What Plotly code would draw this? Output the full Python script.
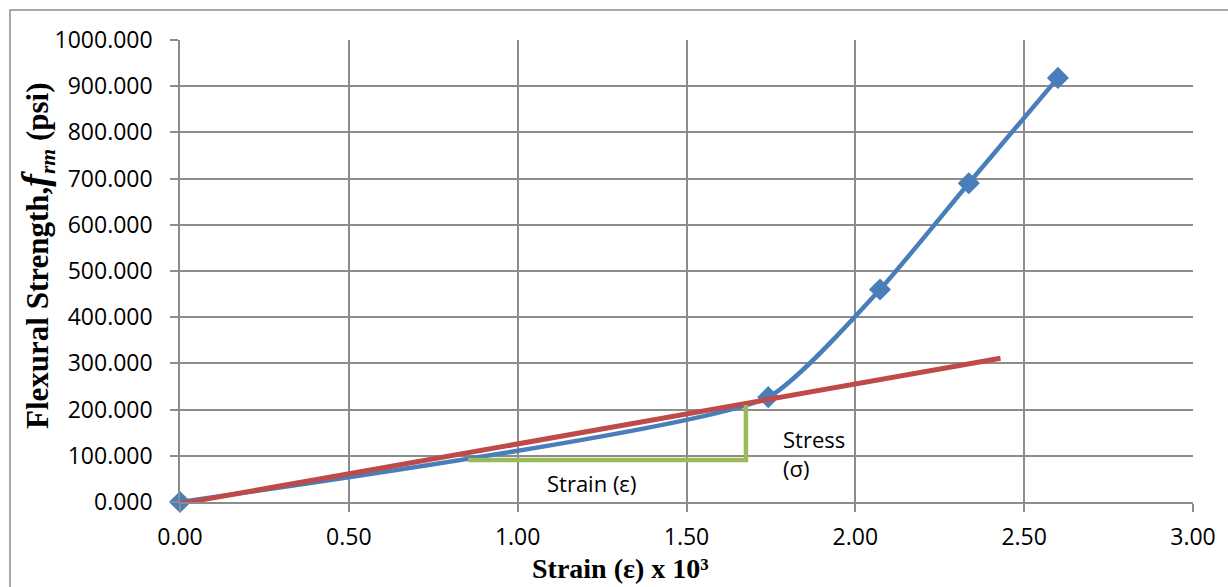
import plotly.graph_objects as go

# Data
strain = [0.0, 1.742, 2.073, 2.336, 2.600]
stress = [0.0, 227.0, 460.0, 690.0, 918.0]

trend_x = [-0.01, 2.43]
trend_y = [-5.0, 311.0]

green_x = [0.853, 1.676, 1.676]
green_y = [91.0, 91.0, 210.0]

x_ticks = [0, 0.5, 1.0, 1.5, 2.0, 2.5, 3.0]
y_ticks = [0, 100, 200, 300, 400, 500, 600, 700, 800, 900, 1000]

W, H = 1228, 587
ML, MR, MT, MB = 180, 35, 40, 85

fig = go.Figure()

fig.add_trace(go.Scatter(
    x=strain, y=stress, mode="lines+markers",
    line=dict(color="#4A7EBB", width=4.5, shape="spline", smoothing=0.5),
    marker=dict(symbol="diamond", size=17, color="#4A7EBB"),
    cliponaxis=False, showlegend=False))

fig.add_trace(go.Scatter(
    x=trend_x, y=trend_y, mode="lines",
    line=dict(color="#BE4B48", width=5),
    cliponaxis=False, showlegend=False))

fig.add_trace(go.Scatter(
    x=green_x, y=green_y, mode="lines",
    line=dict(color="#9BBB59", width=4.5),
    cliponaxis=False, showlegend=False))

tick_font = dict(family="Open Sans", size=23, color="black")

fig.update_xaxes(
    range=[0, 3], tickvals=x_ticks, ticktext=[f"{v:.2f}" for v in x_ticks],
    showgrid=True, gridcolor="#8C8C8C", gridwidth=1.5,
    showline=True, linecolor="#8C8C8C", linewidth=1.5,
    ticks="outside", ticklen=8, tickcolor="#8C8C8C", tickwidth=1.5,
    tickfont=tick_font, ticklabelstandoff=6, zeroline=False)

fig.update_yaxes(
    range=[0, 1000], tickvals=y_ticks, ticktext=[f"{v:.3f}" for v in y_ticks],
    showgrid=True, gridcolor="#8C8C8C", gridwidth=1.5,
    showline=True, linecolor="#8C8C8C", linewidth=1.5,
    ticks="outside", ticklen=8, tickcolor="#8C8C8C", tickwidth=1.5,
    tickfont=tick_font, ticklabelstandoff=13, zeroline=False)

pw = W - ML - MR
ph = H - MT - MB
def px_to_paper_x(p):
    return (p - ML) / pw
def px_to_paper_y(p):
    return (H - MB - p) / ph

# Axis titles
fig.add_annotation(xref="paper", yref="paper",
                   x=px_to_paper_x(620), y=px_to_paper_y(568),
                   text="<b>Strain (ε) x 10³</b>", showarrow=False, borderpad=0,
                   font=dict(family="Liberation Serif", size=28, color="black"),
                   xanchor="center", yanchor="middle")
fig.add_annotation(xref="paper", yref="paper",
                   x=px_to_paper_x(37), y=px_to_paper_y(256),
                   text="<b>Flexural Strength,<i><span style='font-size:38px'>f</span><sub>rm</sub></i> (psi)</b>",
                   showarrow=False, textangle=-90, borderpad=0,
                   font=dict(family="Liberation Serif", size=31, color="black"),
                   xanchor="center", yanchor="middle")

fig.add_annotation(x=1.22, y=41, text="Strain (ε)", showarrow=False,
                   font=dict(family="Open Sans", size=22, color="black"),
                   xanchor="center", yanchor="middle")
fig.add_annotation(x=1.78, y=106, text="Stress<br>(σ)", showarrow=False, align="left",
                   font=dict(family="Open Sans", size=22, color="black"),
                   xanchor="left", yanchor="middle")

fig.add_shape(type="rect", xref="paper", yref="paper",
              x0=px_to_paper_x(10), x1=px_to_paper_x(W + 20),
              y0=px_to_paper_y(H + 20), y1=px_to_paper_y(10),
              line=dict(color="#8C8C8C", width=1.5), layer="below")

fig.update_layout(
    width=W, height=H,
    margin=dict(l=ML, r=MR, t=MT, b=MB),
    plot_bgcolor="white", paper_bgcolor="white",
)

fig.write_html("out.html")
